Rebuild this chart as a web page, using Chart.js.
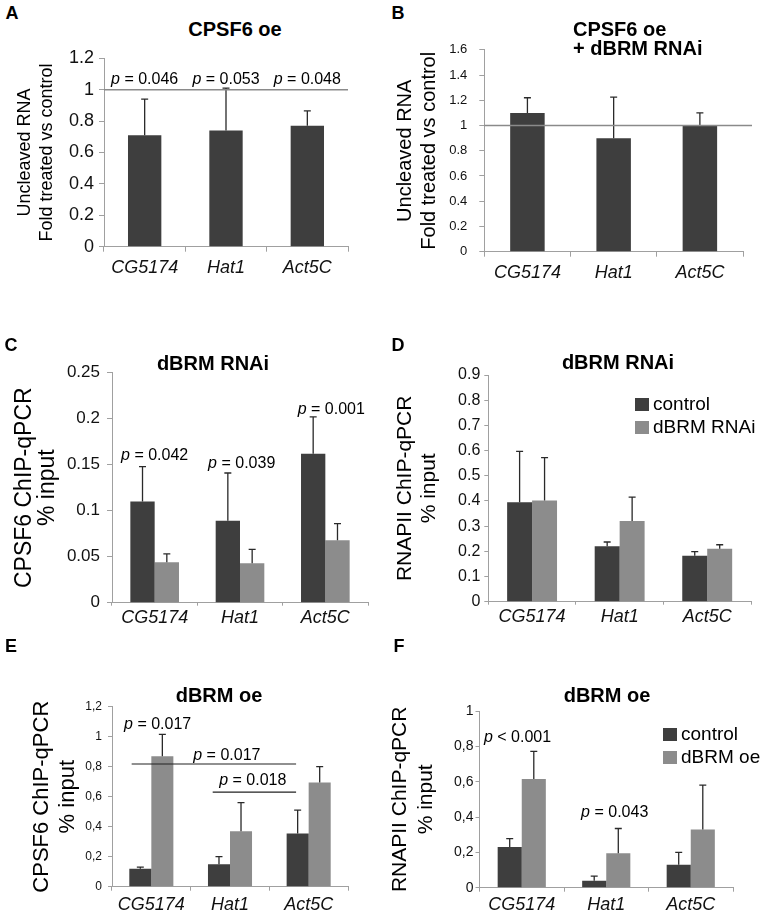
<!DOCTYPE html>
<html>
<head>
<meta charset="utf-8">
<script src="https://cdn.jsdelivr.net/npm/chart.js@4"></script>
<style>
  body { margin: 0; background: #fff; width: 761px; height: 914px; position: relative; overflow: hidden;
         font-family: "Liberation Sans", Arial, sans-serif; }
  canvas { position: absolute; }
  .txt { position: absolute; white-space: nowrap; color: #000; line-height: 1; }
  .c { transform: translate(-50%, -50%); }
  .letter { font-size: 18px; font-weight: bold; transform: translate(-50%, -50%); }
  .title { font-size: 20px; font-weight: bold; }
  .legend { position: absolute; font-size: 19px; color: #000; line-height: 23px; }
  .legend span.sw { display: inline-block; width: 14px; height: 13px; margin-right: 4px; vertical-align: -1px; }
</style>
</head>
<body>
<script>
const genes = ['CG5174', 'Hat1', 'Act5C'];

// A: CPSF6 oe
const aFold = [0.71, 0.74, 0.77];
const aErr = [0.23, 0.27, 0.095];
const aTicks = ['0', '0.2', '0.4', '0.6', '0.8', '1', '1.2'];
const aP = [{ x: 0, y: 1.065, p: ' = 0.046' }, { x: 1, y: 1.065, p: ' = 0.053' }, { x: 2, y: 1.065, p: ' = 0.048' }];

// B: CPSF6 oe + dBRM RNAi
const bFold = [1.10, 0.90, 1.00];
const bErr = [0.12, 0.325, 0.10];
const bTicks = ['0', '0.2', '0.4', '0.6', '0.8', '1', '1.2', '1.4', '1.6'];

// C: CPSF6 ChIP, dBRM RNAi
const cControl = [0.110, 0.089, 0.162];
const cControlErr = [0.038, 0.052, 0.040];
const cRnai = [0.044, 0.043, 0.068];
const cRnaiErr = [0.009, 0.015, 0.018];
const cTicks = ['0', '0.05', '0.1', '0.15', '0.2', '0.25'];
const cP = [{ x: 0, y: 0.160, p: ' = 0.042' }, { x: 1.02, y: 0.151, p: ' = 0.039' }, { x: 2.07, y: 0.210, p: ' = 0.001' }];

// D: RNAPII ChIP, dBRM RNAi
const dControl = [0.395, 0.220, 0.182];
const dControlErr = [0.202, 0.017, 0.017];
const dRnai = [0.402, 0.320, 0.210];
const dRnaiErr = [0.170, 0.095, 0.016];
const dTicks = ['0', '0.1', '0.2', '0.3', '0.4', '0.5', '0.6', '0.7', '0.8', '0.9'];

// E: CPSF6 ChIP, dBRM oe
const eControl = [0.12, 0.15, 0.355];
const eControlErr = [0.01, 0.05, 0.155];
const eOe = [0.87, 0.37, 0.695];
const eOeErr = [0.145, 0.19, 0.105];
const eTicks = ['0', '0,2', '0,4', '0,6', '0,8', '1', '1,2'];
const eP = [{ x: 0.08, y: 1.078, p: ' = 0.017' }, { x: 0.96, y: 0.873, p: ' = 0.017' }, { x: 1.29, y: 0.707, p: ' = 0.018' }];
const eLines = [{ from: -0.25, to: 1.84, y: 0.818 }, { from: 0.78, to: 1.84, y: 0.63 }];

// F: RNAPII ChIP, dBRM oe
const fControl = [0.23, 0.04, 0.13];
const fControlErr = [0.048, 0.025, 0.07];
const fOe = [0.615, 0.195, 0.33];
const fOeErr = [0.157, 0.14, 0.25];
const fTicks = ['0', '0,2', '0,4', '0,6', '0,8', '1'];
const fP = [{ x: -0.05, y: 0.847, p: ' < 0.001' }, { x: 1.1, y: 0.423, p: ' = 0.043' }];

const dark = '#3e3e3e';
const grey = '#8c8c8c';
const axisColor = '#a0a0a0';
const FONT = '"Liberation Sans", Arial, sans-serif';

// error bars, reference line, p-values and brackets
const extras = {
  id: 'extras',
  afterDatasetsDraw(chart, args, opts) {
    const ctx = chart.ctx, xs = chart.scales.x, ys = chart.scales.y;
    ctx.save();
    chart.data.datasets.forEach((ds, di) => {
      const meta = chart.getDatasetMeta(di);
      ds.errors.forEach((e, i) => {
        const bar = meta.data[i];
        const top = ys.getPixelForValue(ds.data[i] + e);
        ctx.strokeStyle = '#2a2a2a';
        ctx.lineWidth = 1.3;
        ctx.beginPath();
        ctx.moveTo(bar.x, bar.y);
        ctx.lineTo(bar.x, top);
        ctx.moveTo(bar.x - 3.5, top);
        ctx.lineTo(bar.x + 3.5, top);
        ctx.stroke();
      });
    });
    if (opts.refLine != null) {
      const y = ys.getPixelForValue(opts.refLine);
      ctx.strokeStyle = '#8a8a8a';
      ctx.lineWidth = 1.5;
      ctx.beginPath();
      ctx.moveTo(chart.chartArea.left, y);
      ctx.lineTo(chart.chartArea.right + (opts.refExtra || 0), y);
      ctx.stroke();
    }
    (opts.lines || []).forEach(l => {
      const y = ys.getPixelForValue(l.y);
      ctx.strokeStyle = '#222';
      ctx.lineWidth = 1.2;
      ctx.beginPath();
      ctx.moveTo(xs.getPixelForValue(l.from), y);
      ctx.lineTo(xs.getPixelForValue(l.to), y);
      ctx.stroke();
    });
    (opts.pvals || []).forEach(pv => {
      const italic = 'italic 16px ' + FONT;
      const normal = '16px ' + FONT;
      ctx.font = italic;
      const w1 = ctx.measureText('p').width;
      ctx.font = normal;
      const w2 = ctx.measureText(pv.p).width;
      const x0 = xs.getPixelForValue(pv.x) - (w1 + w2) / 2;
      const y = ys.getPixelForValue(pv.y);
      ctx.fillStyle = '#000';
      ctx.textBaseline = 'middle';
      ctx.textAlign = 'left';
      ctx.font = italic;
      ctx.fillText('p', x0, y);
      ctx.font = normal;
      ctx.fillText(pv.p, x0 + w1, y);
    });
    ctx.restore();
  }
};

function text(cls, str, x, y, extraStyle) {
  const d = document.createElement('div');
  d.className = 'txt ' + cls;
  d.innerHTML = str;
  d.style.left = x + 'px';
  d.style.top = y + 'px';
  if (extraStyle) d.style.cssText += extraStyle;
  document.body.appendChild(d);
}

function legend(datasets, x, y) {
  const d = document.createElement('div');
  d.className = 'legend';
  d.style.left = x + 'px';
  d.style.top = y + 'px';
  d.innerHTML = datasets.map(ds =>
    `<div><span class="sw" style="background:${ds.backgroundColor}"></span>${ds.label}</div>`).join('');
  document.body.appendChild(d);
}

function panel(o) {
  const [bx, by, bw, bh] = o.box;
  const [pl, pt, pr, pb] = o.plot;
  const c = document.createElement('canvas');
  c.width = bw; c.height = bh;
  c.style.left = bx + 'px'; c.style.top = by + 'px';
  document.body.appendChild(c);
  return new Chart(c, {
    type: 'bar',
    data: { labels: genes, datasets: o.datasets },
    options: {
      responsive: false,
      animation: false,
      devicePixelRatio: 1,
      layout: { padding: { left: o.titleLeft - bx, top: pt - by, right: bx + bw - pr, bottom: 0 } },
      plugins: { legend: { display: false }, tooltip: { enabled: false }, extras: o.extras || {} },
      scales: {
        x: {
          grid: { offset: true, drawOnChartArea: false, tickLength: o.xTick, color: axisColor },
          border: { color: axisColor },
          ticks: { font: { size: 18, style: 'italic', family: FONT }, color: '#111', padding: o.xPad },
          afterFit: s => { s.height = by + bh - pb; }
        },
        y: {
          min: 0, max: o.max,
          ticks: { stepSize: o.step, callback: (v, i) => o.ticks[i], color: '#111', padding: o.yPad,
                   font: { size: o.yFont, family: FONT } },
          grid: { drawOnChartArea: false, tickLength: o.yTick, color: axisColor },
          border: { color: axisColor },
          title: { display: true, text: o.yTitle, color: '#000', padding: { top: 4, bottom: 0 },
                   font: { size: o.titleSize, lineHeight: o.lh, family: FONT } },
          afterFit: s => { s.width = pl - o.titleLeft; }
        }
      }
    },
    plugins: [extras]
  });
}

// A
panel({
  box: [0, 40, 370, 260], plot: [104, 58.3, 348, 246.7], titleLeft: 10.2,
  max: 1.2, step: 0.2, ticks: aTicks, yFont: 18, yPad: 5, yTick: 5, xTick: 5, xPad: 5,
  titleSize: 18, lh: 1.2,
  yTitle: ['Uncleaved RNA', 'Fold treated vs control'],
  datasets: [{ data: aFold, errors: aErr, backgroundColor: dark, barPercentage: 0.41, categoryPercentage: 1 }],
  extras: { refLine: 1, pvals: aP }
});
// B
panel({
  box: [380, 30, 381, 270], plot: [484.3, 40, 743, 251.7], titleLeft: 389,
  max: 1.6, step: 0.2, ticks: bTicks, yFont: 13, yPad: 12, yTick: 5, xTick: 5, xPad: 5,
  titleSize: 20, lh: 1.2,
  yTitle: ['Uncleaved RNA', 'Fold treated vs control'],
  datasets: [{ data: bFold, errors: bErr, backgroundColor: dark, barPercentage: 0.4, categoryPercentage: 1 }],
  extras: { refLine: 1, refExtra: 9 }
});
// C
const cSets = [
  { label: 'control', data: cControl, errors: cControlErr, backgroundColor: dark, barPercentage: 1, categoryPercentage: 0.57 },
  { label: 'dBRM RNAi', data: cRnai, errors: cRnaiErr, backgroundColor: grey, barPercentage: 1, categoryPercentage: 0.57 }
];
panel({
  box: [0, 350, 380, 290], plot: [112, 372.7, 368, 602.7], titleLeft: 9.5,
  max: 0.25, step: 0.05, ticks: cTicks, yFont: 17, yPad: 7, yTick: 5, xTick: 3, xPad: 1,
  titleSize: 23, lh: 1.0,
  yTitle: ['CPSF6 ChIP-qPCR', '% input'],
  datasets: cSets,
  extras: { pvals: cP }
});
// D
const dSets = [
  { label: 'control', data: dControl, errors: dControlErr, backgroundColor: dark, barPercentage: 1, categoryPercentage: 0.57 },
  { label: 'dBRM RNAi', data: dRnai, errors: dRnaiErr, backgroundColor: grey, barPercentage: 1, categoryPercentage: 0.57 }
];
panel({
  box: [380, 350, 381, 290], plot: [488.3, 375, 751, 601.7], titleLeft: 389,
  max: 0.9, step: 0.1, ticks: dTicks, yFont: 16, yPad: 4, yTick: 4, xTick: 3, xPad: 1,
  titleSize: 21, lh: 1.14,
  yTitle: ['RNAPII ChIP-qPCR', '% input'],
  datasets: dSets
});
// E
const eSets = [
  { label: 'control', data: eControl, errors: eControlErr, backgroundColor: dark, barPercentage: 1, categoryPercentage: 0.56 },
  { label: 'dBRM oe', data: eOe, errors: eOeErr, backgroundColor: grey, barPercentage: 1, categoryPercentage: 0.56 }
];
panel({
  box: [0, 680, 380, 234], plot: [112, 706.7, 348, 886.7], titleLeft: 24.3,
  max: 1.2, step: 0.2, ticks: eTicks, yFont: 12, yPad: 6, yTick: 4, xTick: 4, xPad: 3,
  titleSize: 22, lh: 1.21,
  yTitle: ['CPSF6 ChIP-qPCR', '% input'],
  datasets: eSets,
  extras: { pvals: eP, lines: eLines }
});
// F
const fSets = [
  { label: 'control', data: fControl, errors: fControlErr, backgroundColor: dark, barPercentage: 1, categoryPercentage: 0.57 },
  { label: 'dBRM oe', data: fOe, errors: fOeErr, backgroundColor: grey, barPercentage: 1, categoryPercentage: 0.57 }
];
panel({
  box: [380, 680, 381, 234], plot: [479.5, 711, 733, 887.7], titleLeft: 382.6,
  max: 1, step: 0.2, ticks: fTicks, yFont: 14, yPad: 2, yTick: 4, xTick: 4, xPad: 2,
  titleSize: 21, lh: 1.27,
  yTitle: ['RNAPII ChIP-qPCR', '% input'],
  datasets: fSets,
  extras: { pvals: fP }
});

// panel letters and titles
text('letter', 'A', 12, 13);
text('letter', 'B', 398, 13);
text('letter', 'C', 11, 345);
text('letter', 'D', 398, 345);
text('letter', 'E', 11, 646);
text('letter', 'F', 399, 646);
text('title c', 'CPSF6 oe', 235, 29);
text('title', 'CPSF6 oe<br>+ dBRM RNAi', 573, 20, 'line-height:19px;');
text('title c', 'dBRM RNAi', 213, 363);
text('title c', 'dBRM RNAi', 618, 362);
text('title c', 'dBRM oe', 219, 695);
text('title c', 'dBRM oe', 607, 695);

legend(dSets, 635, 392);
legend(fSets, 663, 722);
</script>
</body>
</html>
